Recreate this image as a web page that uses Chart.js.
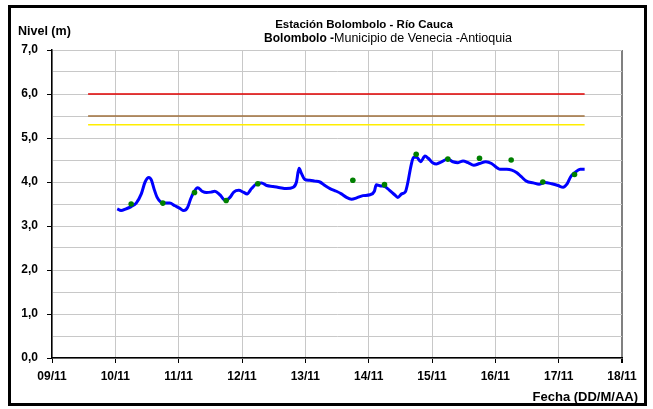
<!DOCTYPE html>
<html>
<head>
<meta charset="utf-8">
<script src="https://cdn.jsdelivr.net/npm/chart.js@4/dist/chart.umd.min.js"></script>
<style>
  html, body { margin: 0; padding: 0; background: #fff; }
  canvas { display: block; }
</style>
</head>
<body>
<canvas id="c" width="653" height="409"></canvas>
<script>
// ---- Data ----
const dayLabels = ['09/11','10/11','11/11','12/11','13/11','14/11','15/11','16/11','17/11','18/11'];
const yTickLabels = ['0,0','1,0','2,0','3,0','4,0','5,0','6,0','7,0'];

// continuous sensor record (day of November, level m)
const sensorTimes = [10.03,10.09,10.17,10.25,10.33,10.41,10.47,10.53,10.57,10.61,10.66,10.72,10.78,10.86,10.94,
  11.02,11.08,11.14,11.19,11.24,11.30,11.37,11.44,11.51,11.57,11.65,11.74,11.81,11.87,11.95,
  12.02,12.08,12.15,12.23,12.31,12.39,12.49,12.60,12.70,12.81,12.86,12.90,12.94,12.99,
  13.07,13.15,13.23,13.31,13.39,13.49,13.57,13.65,13.73,13.81,13.91,
  14.02,14.09,14.12,14.19,14.25,14.33,14.41,14.46,14.52,14.58,14.62,14.67,14.71,14.76,14.82,14.89,14.94,
  15.01,15.07,15.15,15.25,15.33,15.41,15.49,15.57,15.66,15.75,15.85,15.94,
  16.02,16.07,16.18,16.26,16.34,16.41,16.49,16.60,16.69,16.78,16.89,16.99,
  17.07,17.13,17.19,17.26,17.34,17.41];
const sensorLevels = [3.39,3.35,3.39,3.44,3.52,3.73,4.00,4.10,4.04,3.85,3.65,3.54,3.52,3.52,3.46,
  3.40,3.35,3.42,3.62,3.77,3.87,3.79,3.76,3.77,3.79,3.71,3.58,3.65,3.77,3.81,
  3.77,3.73,3.85,3.96,3.98,3.92,3.90,3.87,3.85,3.88,4.00,4.31,4.19,4.06,
  4.04,4.02,4.00,3.92,3.85,3.79,3.73,3.65,3.61,3.64,3.69,
  3.71,3.79,3.94,3.91,3.90,3.81,3.71,3.65,3.73,3.78,4.00,4.38,4.56,4.56,4.46,4.59,4.54,
  4.44,4.41,4.46,4.52,4.46,4.44,4.48,4.44,4.38,4.42,4.46,4.42,
  4.33,4.29,4.29,4.27,4.21,4.12,4.02,3.98,3.95,3.99,3.96,3.92,
  3.88,3.95,4.12,4.22,4.29,4.29];

// manual readings (06:00 and 18:00)
const manualTimes  = [10.25,10.75,11.25,11.75,12.25,13.75,14.25,14.75,15.25,15.75,16.25,16.75,17.25];
const manualLevels = [3.50,3.52,3.76,3.58,3.96,4.04,3.94,4.63,4.52,4.54,4.50,4.00,4.17];

// alert thresholds
const thresholdSpan = [9.57, 17.41];
const redLevel = 6.0;
const orangeLevel = 5.5;
const yellowLevel = 5.3;

// ---- Build ----
const pts = (xs, ys) => xs.map((x, i) => ({x: x, y: ys[i]}));
const flat = (v) => thresholdSpan.map(x => ({x: x, y: v}));

const FONT = '"Liberation Sans", Arial, sans-serif';

const decor = {
  id: 'decor',
  afterDraw(chart) {
    const ctx = chart.ctx;
    ctx.save();
    ctx.fillStyle = '#000';
    ctx.textBaseline = 'alphabetic';
    // title
    ctx.font = 'bold 11.5px ' + FONT;
    ctx.textAlign = 'center';
    ctx.fillText('Estación Bolombolo - Río Cauca', 364, 28);
    // subtitle mixed weight
    const p1 = 'Bolombolo -', p2 = 'Municipio de Venecia -Antioquia';
    ctx.font = 'bold 12px ' + FONT;
    const w1 = ctx.measureText(p1).width;
    ctx.font = '12.5px ' + FONT;
    const w2 = ctx.measureText(p2).width;
    const sx = 388 - (w1 + w2) / 2;
    ctx.textAlign = 'left';
    ctx.font = 'bold 12px ' + FONT;
    ctx.fillText(p1, sx, 42);
    ctx.font = '12.5px ' + FONT;
    ctx.fillText(p2, sx + w1, 42);
    // axis titles
    ctx.font = 'bold 12.5px ' + FONT;
    ctx.textAlign = 'left';
    ctx.fillText('Nivel (m)', 18, 35);
    ctx.font = 'bold 13px ' + FONT;
    ctx.textAlign = 'right';
    ctx.fillText('Fecha (DD/M/AA)', 638, 401);
    // frame
    ctx.strokeStyle = '#000';
    ctx.lineWidth = 3;
    ctx.strokeRect(9.5, 6.5, 636, 398);
    ctx.restore();
  }
};

new Chart(document.getElementById('c'), {
  type: 'line',
  data: {
    datasets: [
      { label: 'Lectura', data: pts(manualTimes, manualLevels), showLine: false,
        pointRadius: 2.8, pointBackgroundColor: '#008000', pointBorderWidth: 0, pointHoverRadius: 2.8 },
      { label: 'Nivel', data: pts(sensorTimes, sensorLevels), borderColor: '#0000ff', borderWidth: 3,
        pointRadius: 0, tension: 0.4, cubicInterpolationMode: 'monotone', fill: false },
      { label: 'Rojo', data: flat(redLevel), borderColor: '#e00000', borderWidth: 1.5, pointRadius: 0 },
      { label: 'Naranja', data: flat(orangeLevel), borderColor: '#a0703c', borderWidth: 1.5, pointRadius: 0 },
      { label: 'Amarillo', data: flat(yellowLevel), borderColor: '#ffee00', borderWidth: 1.5, pointRadius: 0 }
    ]
  },
  options: {
    responsive: false,
    animation: false,
    devicePixelRatio: 1,
    layout: { padding: { left: 0, right: 31, top: 50, bottom: 0 } },
    plugins: { legend: { display: false }, tooltip: { enabled: false }, title: { display: false } },
    scales: {
      x: {
        type: 'linear', min: 9, max: 18,
        afterFit(s) { s.height = 51; },
        ticks: {
          stepSize: 1, padding: 6, color: '#000',
          font: { family: FONT, size: 12, weight: 'bold' },
          callback: (v) => dayLabels[Math.round(v) - 9]
        },
        grid: {
          color: (c) => (c.tick && c.tick.value === 18) ? '#808080' : '#c8c8c8',
          lineWidth: (c) => (c.tick && c.tick.value === 18) ? 2 : 1,
          tickColor: '#000', tickLength: 5
        },
        border: { color: '#000', width: 1.5 }
      },
      y: {
        min: 0, max: 7,
        afterFit(s) { s.width = 52; },
        ticks: {
          stepSize: 0.5, padding: 9, color: '#000',
          font: { family: FONT, size: 12, weight: 'bold' },
          callback: (v) => Number.isInteger(v) ? yTickLabels[v] : ''
        },
        grid: {
          color: '#c8c8c8', lineWidth: 1,
          tickColor: (c) => (c.tick && Number.isInteger(c.tick.value)) ? '#000' : 'rgba(0,0,0,0)',
          tickLength: 5
        },
        border: { color: '#000', width: 1.5 }
      }
    }
  },
  plugins: [decor]
});
</script>
</body>
</html>
